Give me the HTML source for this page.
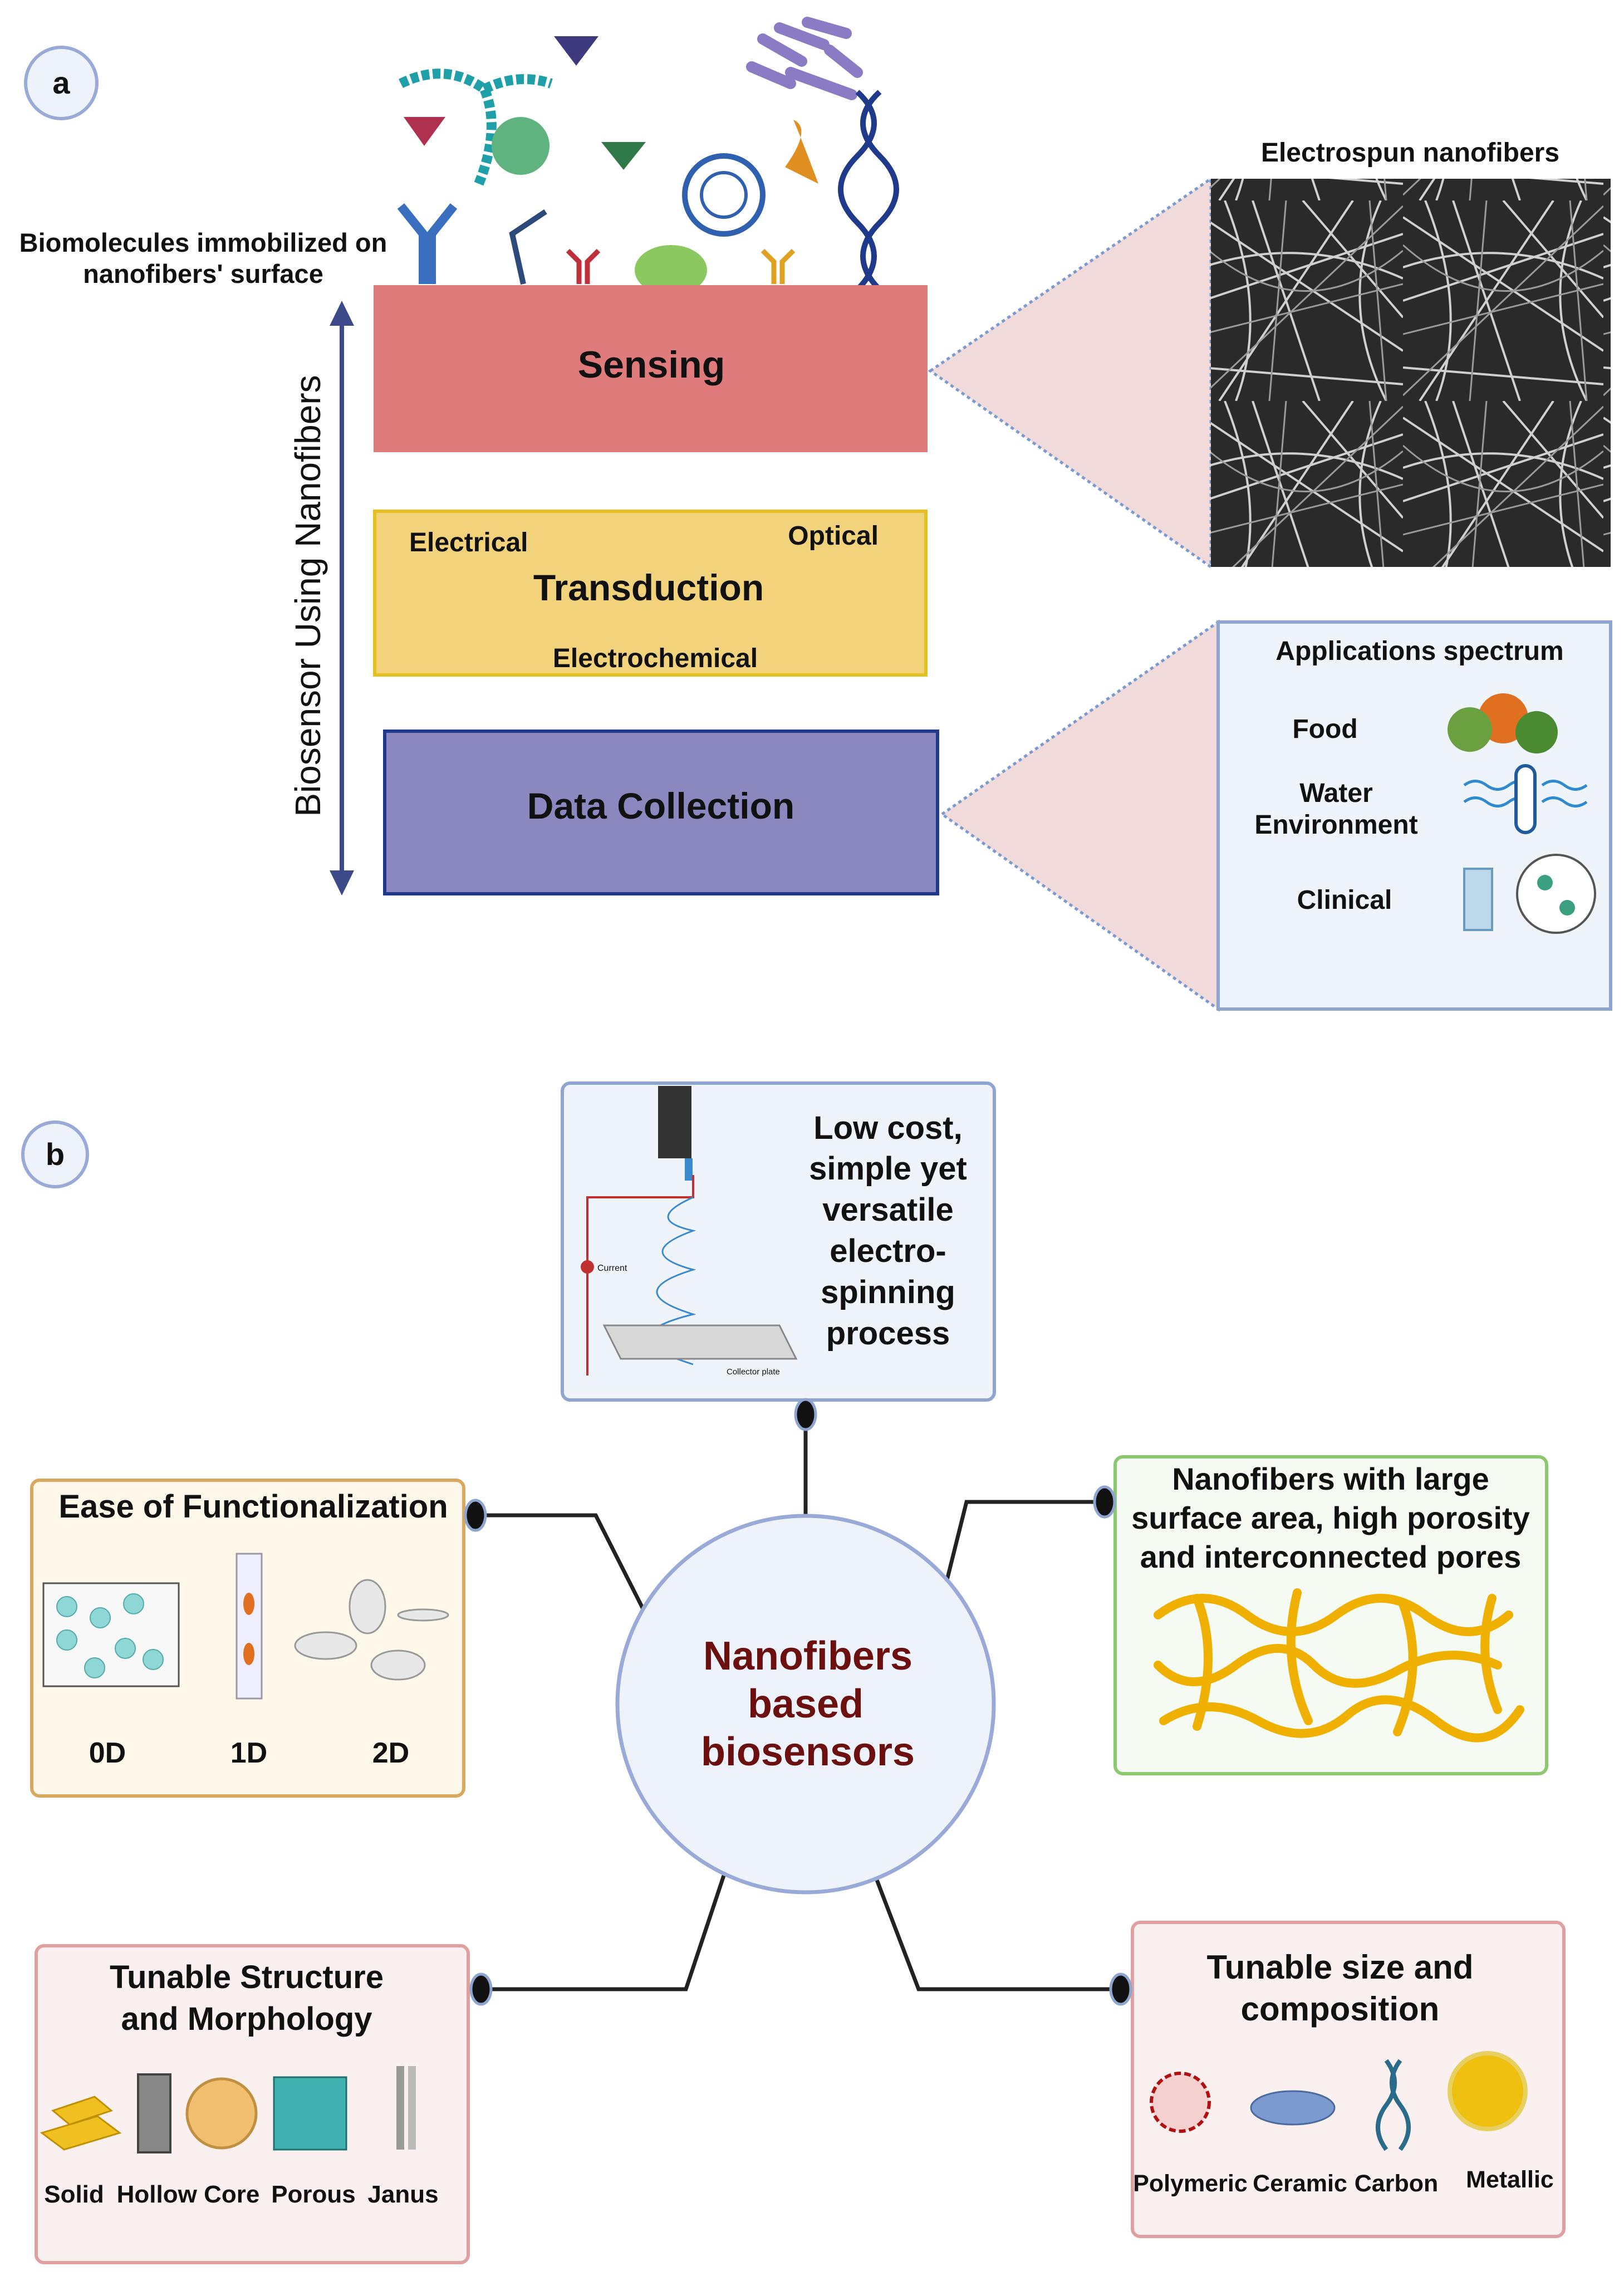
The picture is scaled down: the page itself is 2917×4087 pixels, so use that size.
<!DOCTYPE html>
<html><head><meta charset="utf-8"><style>
html,body{margin:0;padding:0;background:#fff}
svg{display:block}
text{font-family:"Liberation Sans",sans-serif;font-weight:bold;fill:#111}
</style></head><body>
<svg width="2917" height="4087" viewBox="0 0 2917 4087" xmlns="http://www.w3.org/2000/svg">
<defs>
<pattern id="fib" width="360" height="360" patternUnits="userSpaceOnUse">
<rect width="360" height="360" fill="#2a2a2a"/>
<path d="M0 30 L360 270 M0 180 L360 60 M90 0 L210 360 M270 0 L30 360 M0 300 L360 330 M180 0 L360 210 M0 120 Q180 60 360 140 M40 0 Q120 200 60 360 M320 0 Q240 180 330 360" stroke="#d0d0d0" stroke-width="4" fill="none"/>
<path d="M0 240 L360 150 M300 0 L330 360 M0 80 Q180 240 360 90 M150 0 L120 360 M0 350 L360 10" stroke="#9a9a9a" stroke-width="3" fill="none"/>
</pattern>
</defs>
<!-- Part a -->
<circle cx="110" cy="149" r="64" fill="#eef3fb" stroke="#9aaad8" stroke-width="6"/>
<text x="110" y="168" font-size="56" text-anchor="middle">a</text>

<path d="M720 150 Q800 110 870 160 Q900 230 860 330" stroke="#1fa0a8" stroke-width="18" fill="none" stroke-dasharray="14 6"/>
<path d="M870 160 Q930 130 990 150" stroke="#1fa0a8" stroke-width="18" fill="none" stroke-dasharray="14 6"/>
<polygon points="725,210 800,210 762,262" fill="#b03050"/>
<polygon points="995,65 1075,65 1035,118" fill="#3d3a80"/>
<polygon points="1080,255 1160,255 1120,305" fill="#2f7a48"/>
<circle cx="935" cy="262" r="52" fill="#5fb37e"/>
<path d="M1370 70 L1440 110 M1350 120 L1420 150 M1400 50 L1480 80 M1420 130 L1530 170 M1450 40 L1520 60 M1490 90 L1540 130" stroke="#8a7bc4" stroke-width="20" stroke-linecap="round"/>
<path d="M1540 165 Q1600 220 1540 280 Q1480 340 1540 400 Q1600 460 1540 520" stroke="#1f3a8a" stroke-width="10" fill="none"/>
<path d="M1580 165 Q1520 220 1580 280 Q1640 340 1580 400 Q1520 460 1580 520" stroke="#1f3a8a" stroke-width="10" fill="none"/>
<circle cx="1300" cy="350" r="70" fill="none" stroke="#3060b0" stroke-width="10"/>
<circle cx="1300" cy="350" r="40" fill="none" stroke="#3060b0" stroke-width="6"/>
<path d="M1425 215 Q1460 230 1410 300 L1470 330 Q1440 250 1425 215Z" fill="#e09020"/>
<ellipse cx="1205" cy="485" rx="65" ry="45" fill="#8cc860"/>
<path d="M760 510 L760 420 L720 370 M775 510 L775 420 L815 370" stroke="#3a6fc0" stroke-width="16" fill="none"/>
<path d="M1040 510 L1040 470 L1020 450 M1055 510 L1055 470 L1075 450" stroke="#c0303a" stroke-width="9" fill="none"/>
<path d="M940 510 L920 420 L980 380" stroke="#2c4a7a" stroke-width="10" fill="none"/>
<path d="M1390 510 L1390 470 L1370 450 M1405 510 L1405 470 L1425 450" stroke="#e0a020" stroke-width="9" fill="none"/>

<text x="365" y="452" font-size="47" text-anchor="middle">Biomolecules immobilized on</text>
<text x="365" y="508" font-size="47" text-anchor="middle">nanofibers' surface</text>

<polygon points="1671,666 2175,321 2175,1018" fill="#f0dada" stroke="#7b9bd0" stroke-width="5" stroke-dasharray="6 6"/>
<polygon points="1692,1462 2188,1117 2188,1812" fill="#f0dada" stroke="#7b9bd0" stroke-width="5" stroke-dasharray="6 6"/>

<rect x="671" y="512" width="995" height="300" fill="#e07b7b"/>
<text x="1170" y="678" font-size="68" text-anchor="middle">Sensing</text>
<rect x="673" y="918" width="990" height="294" fill="#f2d27a" stroke="#e6c020" stroke-width="6"/>
<text x="735" y="990" font-size="48">Electrical</text>
<text x="1578" y="978" font-size="48" text-anchor="end">Optical</text>
<text x="1165" y="1078" font-size="66" text-anchor="middle">Transduction</text>
<text x="1177" y="1198" font-size="48" text-anchor="middle">Electrochemical</text>
<rect x="691" y="1313" width="993" height="292" fill="#8b87bf" stroke="#1f3a8a" stroke-width="6"/>
<text x="1187" y="1470" font-size="66" text-anchor="middle">Data Collection</text>

<line x1="614" y1="580" x2="614" y2="1570" stroke="#3d4a8a" stroke-width="8"/>
<polygon points="614,540 592,585 636,585" fill="#3d4a8a"/>
<polygon points="614,1608 592,1563 636,1563" fill="#3d4a8a"/>
<text x="0" y="0" font-size="64" style="font-weight:normal" text-anchor="middle" transform="translate(575,1070) rotate(-90)">Biosensor Using Nanofibers</text>

<text x="2533" y="290" font-size="48" text-anchor="middle">Electrospun nanofibers</text>
<rect x="2175" y="321" width="718" height="697" fill="url(#fib)"/>

<rect x="2188" y="1117" width="705" height="695" fill="#eff4fb" stroke="#8ea5d0" stroke-width="6"/>
<text x="2550" y="1185" font-size="48" text-anchor="middle">Applications spectrum</text>
<text x="2380" y="1325" font-size="48" text-anchor="middle">Food</text>
<text x="2400" y="1440" font-size="48" text-anchor="middle">Water</text>
<text x="2400" y="1497" font-size="48" text-anchor="middle">Environment</text>
<text x="2415" y="1632" font-size="48" text-anchor="middle">Clinical</text>
<circle cx="2700" cy="1290" r="45" fill="#e07020"/><circle cx="2640" cy="1310" r="40" fill="#6aa040"/><circle cx="2760" cy="1315" r="38" fill="#4a8a30"/>
<path d="M2630 1410 q20 -15 40 0 t40 0 t40 0 M2630 1440 q20 -15 40 0 t40 0 t40 0 M2770 1410 q20 -15 40 0 t40 0 M2770 1440 q20 -15 40 0 t40 0" stroke="#2f8ad0" stroke-width="5" fill="none"/>
<rect x="2723" y="1375" width="34" height="120" rx="17" fill="#fff" stroke="#1f5a9a" stroke-width="6"/>
<rect x="2630" y="1560" width="50" height="110" fill="#bcd8ea" stroke="#6a9ac0" stroke-width="4"/>
<circle cx="2795" cy="1605" r="70" fill="#fff" stroke="#555" stroke-width="4"/>
<circle cx="2775" cy="1585" r="14" fill="#3aa080"/><circle cx="2815" cy="1630" r="14" fill="#3aa080"/>

<!-- Part b -->
<circle cx="99" cy="2073" r="58" fill="#eef3fb" stroke="#9aaad8" stroke-width="6"/>
<text x="99" y="2092" font-size="56" text-anchor="middle">b</text>

<g stroke="#222" stroke-width="7" fill="none">
<path d="M1447 2540 L1447 2729"/>
<path d="M854 2721 L1070 2721 L1157 2893"/>
<path d="M1984 2697 L1736 2697 L1700 2841"/>
<path d="M864 3572 L1232 3572 L1300 3368"/>
<path d="M2013 3572 L1650 3572 L1572 3368"/>
</g>

<rect x="1010" y="1945" width="776" height="569" rx="14" fill="#eff4fb" stroke="#8ea5d0" stroke-width="6"/>
<text x="1595" y="2045" font-size="58" text-anchor="middle">Low cost,</text>
<text x="1595" y="2118" font-size="58" text-anchor="middle">simple yet</text>
<text x="1595" y="2192" font-size="58" text-anchor="middle">versatile</text>
<text x="1595" y="2266" font-size="58" text-anchor="middle">electro-</text>
<text x="1595" y="2340" font-size="58" text-anchor="middle">spinning</text>
<text x="1595" y="2414" font-size="58" text-anchor="middle">process</text>
<rect x="1182" y="1950" width="60" height="130" fill="#333"/>
<rect x="1230" y="2080" width="14" height="40" fill="#3a8ad0"/>
<path d="M1245 2110 L1245 2150 L1055 2150 L1055 2470" stroke="#c03030" stroke-width="4" fill="none"/>
<circle cx="1055" cy="2275" r="12" fill="#c03030"/>
<text x="1073" y="2282" font-size="16" style="font-weight:normal">Current</text>
<path d="M1245 2150 q-90 40 0 60 q-110 40 0 70 q-130 40 0 80 q-160 40 0 90" stroke="#3a8ad0" stroke-width="3" fill="none"/>
<polygon points="1085,2380 1400,2380 1430,2440 1115,2440" fill="#d8d8d8" stroke="#888" stroke-width="3"/>
<text x="1305" y="2468" font-size="15" style="font-weight:normal">Collector plate</text>

<circle cx="1447" cy="3060" r="338" fill="#eef3fb" stroke="#9aaad8" stroke-width="7"/>
<text x="1451" y="2998" font-size="72" text-anchor="middle" style="fill:#6b0f0f">Nanofibers</text>
<text x="1447" y="3084" font-size="72" text-anchor="middle" style="fill:#6b0f0f">based</text>
<text x="1451" y="3170" font-size="72" text-anchor="middle" style="fill:#6b0f0f">biosensors</text>

<rect x="57" y="2658" width="776" height="567" rx="14" fill="#fdf8ea" stroke="#d9a85f" stroke-width="6"/>
<text x="455" y="2725" font-size="58" text-anchor="middle">Ease of Functionalization</text>
<rect x="78" y="2843" width="243" height="185" fill="#f8f8f8" stroke="#555" stroke-width="3"/>
<g fill="#8fd6d6" stroke="#5aa" stroke-width="2"><circle cx="120" cy="2885" r="18"/><circle cx="180" cy="2905" r="18"/><circle cx="240" cy="2880" r="18"/><circle cx="120" cy="2945" r="18"/><circle cx="225" cy="2960" r="18"/><circle cx="275" cy="2980" r="18"/><circle cx="170" cy="2995" r="18"/></g>
<rect x="425" y="2790" width="45" height="260" fill="#eef" stroke="#99a" stroke-width="3"/>
<ellipse cx="447" cy="2880" rx="10" ry="20" fill="#e07020"/><ellipse cx="447" cy="2970" rx="10" ry="20" fill="#e07020"/>
<g fill="#e8e8e8" stroke="#999" stroke-width="3"><ellipse cx="660" cy="2885" rx="32" ry="48"/><ellipse cx="585" cy="2955" rx="55" ry="24"/><ellipse cx="715" cy="2990" rx="48" ry="26"/><ellipse cx="760" cy="2900" rx="45" ry="10"/></g>
<text x="193" y="3165" font-size="52" text-anchor="middle">0D</text>
<text x="447" y="3165" font-size="52" text-anchor="middle">1D</text>
<text x="702" y="3165" font-size="52" text-anchor="middle">2D</text>

<rect x="2003" y="2616" width="775" height="569" rx="14" fill="#f5faf2" stroke="#8cc870" stroke-width="6"/>
<text x="2390" y="2675" font-size="56" text-anchor="middle">Nanofibers with large</text>
<text x="2390" y="2745" font-size="56" text-anchor="middle">surface area, high porosity</text>
<text x="2390" y="2815" font-size="56" text-anchor="middle">and interconnected pores</text>
<g stroke="#f0b000" stroke-width="16" fill="none" stroke-linecap="round">
<path d="M2080 2900 q80 -60 160 0 t160 0 t160 0 t150 0"/>
<path d="M2080 2990 q60 60 140 0 t140 0 t150 10 t180 -10"/>
<path d="M2090 3090 q80 -50 170 0 t160 -10 t160 10 t150 -20"/>
<path d="M2150 2870 q40 100 0 230 M2330 2860 q-30 120 20 230 M2520 2880 q40 110 -10 230 M2680 2870 q-30 100 10 200"/>
</g>

<rect x="65" y="3494" width="776" height="569" rx="14" fill="#fbf0f0" stroke="#e0a0a0" stroke-width="6"/>
<text x="443" y="3570" font-size="58" text-anchor="middle">Tunable Structure</text>
<text x="443" y="3645" font-size="58" text-anchor="middle">and Morphology</text>
<polygon points="75,3830 175,3800 215,3830 115,3860" fill="#f0c020" stroke="#c09000" stroke-width="3"/>
<polygon points="95,3790 170,3765 200,3790 125,3815" fill="#f0c020" stroke="#c09000" stroke-width="3"/>
<rect x="248" y="3725" width="58" height="140" fill="#888" stroke="#444" stroke-width="4"/>
<circle cx="398" cy="3795" r="62" fill="#f0c070" stroke="#c09040" stroke-width="5"/>
<rect x="492" y="3730" width="130" height="130" fill="#40b0b0" stroke="#207070" stroke-width="3"/>
<rect x="712" y="3710" width="14" height="150" fill="#999"/><rect x="733" y="3710" width="14" height="150" fill="#bbb"/>
<text x="133" y="3955" font-size="44" text-anchor="middle">Solid</text>
<text x="338" y="3955" font-size="44" text-anchor="middle">Hollow Core</text>
<text x="563" y="3955" font-size="44" text-anchor="middle">Porous</text>
<text x="724" y="3955" font-size="44" text-anchor="middle">Janus</text>

<rect x="2034" y="3452" width="775" height="564" rx="14" fill="#fbf0f0" stroke="#e0a0a0" stroke-width="6"/>
<text x="2407" y="3553" font-size="60" text-anchor="middle">Tunable size and</text>
<text x="2407" y="3628" font-size="60" text-anchor="middle">composition</text>
<circle cx="2120" cy="3775" r="52" fill="#f4d0d0" stroke="#b01010" stroke-width="6" stroke-dasharray="12 6"/>
<ellipse cx="2322" cy="3785" rx="75" ry="30" fill="#7a9ad0" stroke="#4a6aa0" stroke-width="3"/>
<path d="M2490 3700 q30 40 0 80 q-30 40 0 80 M2515 3700 q-30 40 0 80 q30 40 0 80" stroke="#2a6a8a" stroke-width="8" fill="none"/>
<circle cx="2672" cy="3755" r="68" fill="#f0c010" stroke="#e8d060" stroke-width="8"/>
<text x="2138" y="3935" font-size="43" text-anchor="middle">Polymeric</text>
<text x="2335" y="3935" font-size="43" text-anchor="middle">Ceramic</text>
<text x="2508" y="3935" font-size="43" text-anchor="middle">Carbon</text>
<text x="2712" y="3928" font-size="43" text-anchor="middle">Metallic</text>

<g fill="#111" stroke="#8ea5d0" stroke-width="5">
<ellipse cx="1447" cy="2540" rx="18" ry="27"/>
<ellipse cx="854" cy="2721" rx="18" ry="27"/>
<ellipse cx="1984" cy="2697" rx="18" ry="27"/>
<ellipse cx="864" cy="3572" rx="18" ry="27"/>
<ellipse cx="2013" cy="3572" rx="18" ry="27"/>
</g>
</svg>
</body></html>
